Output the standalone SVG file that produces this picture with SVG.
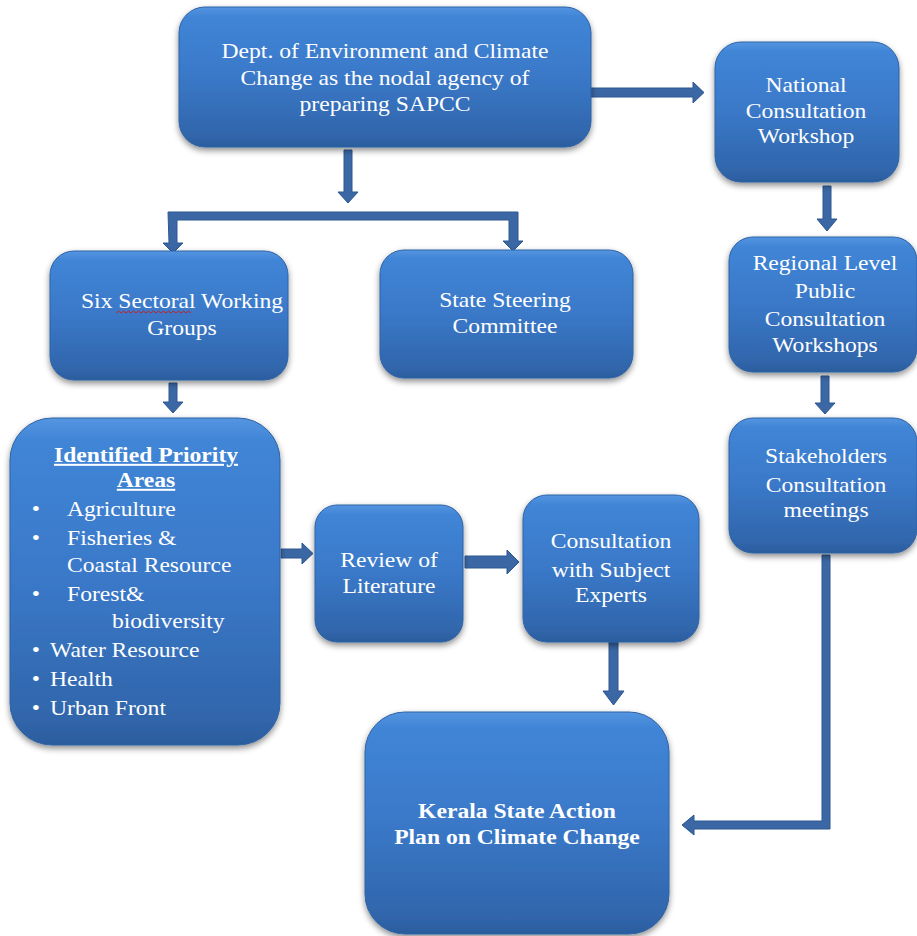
<svg xmlns="http://www.w3.org/2000/svg" width="917" height="936" viewBox="0 0 917 936">
<defs>
<linearGradient id="bg" x1="0" y1="0" x2="0" y2="1">
<stop offset="0" stop-color="#5595e0"/>
<stop offset="0.07" stop-color="#4085d6"/>
<stop offset="0.5" stop-color="#3a78c8"/>
<stop offset="0.93" stop-color="#3065aa"/>
<stop offset="1" stop-color="#2b5c9d"/>
</linearGradient>
<filter id="sh" x="-10%" y="-10%" width="120%" height="125%">
<feDropShadow dx="0" dy="3" stdDeviation="3" flood-color="#000" flood-opacity="0.45"/>
</filter>
</defs>
<style>
.box{fill:url(#bg);stroke:#2e62a5;stroke-width:1;filter:url(#sh)}
.t{font-family:"Liberation Serif","Times New Roman",serif;font-size:20px;fill:#ffffff;text-anchor:middle}
.b{font-weight:bold}
.l{text-anchor:start}
.arr{fill:#3b68a5;stroke:#2c5791;stroke-width:1}
</style>
<rect width="917" height="936" fill="#ffffff"/>
<g id="connectors">
<path class="arr" d="M591,88 H693 V82 L704,92.5 L693,103 V97 H591 Z"/>
<path class="arr" d="M344,150 H352 V192 H358 L348,203 L338,192 H344 Z"/>
<path class="arr" d="M168,212 H518 V241 H523 L513,251 L503,241 H509 V220 H177 V243 H183 L173,253 L163,243 H169 Z"/>
<path class="arr" d="M169,383 H177 V402 H183 L173,413 L163,402 H169 Z"/>
<path class="arr" d="M823,186 H831 V219 H837 L827,231 L817,219 H823 Z"/>
<path class="arr" d="M821,376 H829 V403 H835 L825,414 L815,403 H821 Z"/>
<path class="arr" d="M281,549 H302 V543 L313,553.5 L302,564 V558 H281 Z"/>
<path class="arr" d="M465,556 H507 V550 L519,562 L507,574 V568 H465 Z"/>
<path class="arr" d="M609,642 H618 V691 H624 L613.5,705 L603,691 H609 Z"/>
<path class="arr" d="M822,555 H830 V829 H694 V835 L682,825 L694,815 V821 H822 Z"/>
</g>
<g id="n-top">
<rect class="box" x="179" y="7" width="412" height="140" rx="26"/>
<text class="t" transform="translate(385 0) scale(1.18 1)"><tspan x="0" y="58">Dept. of Environment and Climate</tspan><tspan x="0" y="85">Change as the nodal agency of</tspan><tspan x="0" y="111">preparing SAPCC</tspan></text>
</g>
<g id="n-national">
<rect class="box" x="715" y="42" width="184" height="140" rx="26"/>
<text class="t" transform="translate(806 0) scale(1.18 1)"><tspan x="0" y="92">National</tspan><tspan x="0" y="118">Consultation</tspan><tspan x="0" y="143">Workshop</tspan></text>
</g>
<g id="n-regional">
<rect class="box" x="729" y="237" width="188" height="135" rx="24"/>
<text class="t" transform="translate(825 0) scale(1.18 1)"><tspan x="0" y="270">Regional Level</tspan><tspan x="0" y="298">Public</tspan><tspan x="0" y="326">Consultation</tspan><tspan x="0" y="352">Workshops</tspan></text>
</g>
<g id="n-stakeholders">
<rect class="box" x="729" y="418" width="188" height="135" rx="24"/>
<text class="t" transform="translate(826 0) scale(1.18 1)"><tspan x="0" y="463">Stakeholders</tspan><tspan x="0" y="492">Consultation</tspan><tspan x="0" y="517">meetings</tspan></text>
</g>
<g id="n-six">
<rect class="box" x="50" y="251" width="238" height="129" rx="24"/>
<text class="t" transform="translate(182 0) scale(1.18 1)"><tspan x="0" y="308">Six Sectoral Working</tspan><tspan x="0" y="335">Groups</tspan></text>
<path d="M116,313 l2.5,-2 l2.5,2 l2.5,-2 l2.5,2 l2.5,-2 l2.5,2 l2.5,-2 l2.5,2 l2.5,-2 l2.5,2 l2.5,-2 l2.5,2 l2.5,-2 l2.5,2 l2.5,-2 l2.5,2 l2.5,-2 l2.5,2 l2.5,-2 l2.5,2 l2.5,-2 l2.5,2 l2.5,-2 l2.5,2 l2.5,-2 l2.5,2 l2.5,-2 l2.5,2 l2.5,-2 l2.5,2" fill="none" stroke="#c0242a" stroke-width="1"/>
</g>
<g id="n-state">
<rect class="box" x="380" y="250" width="253" height="128" rx="24"/>
<text class="t" transform="translate(505 0) scale(1.18 1)"><tspan x="0" y="307">State Steering</tspan><tspan x="0" y="333">Committee</tspan></text>
</g>
<g id="n-identified">
<rect class="box" x="10" y="418" width="270" height="327" rx="42"/>
<text class="t b" transform="translate(146 0) scale(1.18 1)" text-decoration="underline"><tspan x="0" y="462">Identified Priority</tspan><tspan x="0" y="487">Areas</tspan></text>
<text class="t" transform="scale(1.18 1)">
<tspan x="30.5" y="516">•</tspan><tspan x="30.5" y="545">•</tspan><tspan x="30.5" y="601">•</tspan><tspan x="30.5" y="657">•</tspan><tspan x="30.5" y="686">•</tspan><tspan x="30.5" y="715">•</tspan>
</text>
<text class="t l" transform="scale(1.18 1)"><tspan x="56.8" y="516">Agriculture</tspan><tspan x="56.8" y="545">Fisheries &amp;</tspan><tspan x="56.8" y="572">Coastal Resource</tspan><tspan x="56.8" y="601">Forest&amp;</tspan><tspan x="94.9" y="628">biodiversity</tspan><tspan x="42.4" y="657">Water Resource</tspan><tspan x="42.4" y="686">Health</tspan><tspan x="42.4" y="715">Urban Front</tspan></text>
</g>
<g id="n-review">
<rect class="box" x="315" y="505" width="148" height="137" rx="22"/>
<text class="t" transform="translate(389 0) scale(1.18 1)"><tspan x="0" y="567">Review of</tspan><tspan x="0" y="593">Literature</tspan></text>
</g>
<g id="n-consult">
<rect class="box" x="523" y="495" width="176" height="147" rx="24"/>
<text class="t" transform="translate(611 0) scale(1.18 1)"><tspan x="0" y="548">Consultation</tspan><tspan x="0" y="577">with Subject</tspan><tspan x="0" y="602">Experts</tspan></text>
</g>
<g id="n-kerala">
<rect class="box" x="365" y="712" width="304" height="222" rx="40"/>
<text class="t b" transform="translate(517 0) scale(1.18 1)"><tspan x="0" y="818">Kerala State Action</tspan><tspan x="0" y="844">Plan on Climate Change</tspan></text>
</g>
</svg>
